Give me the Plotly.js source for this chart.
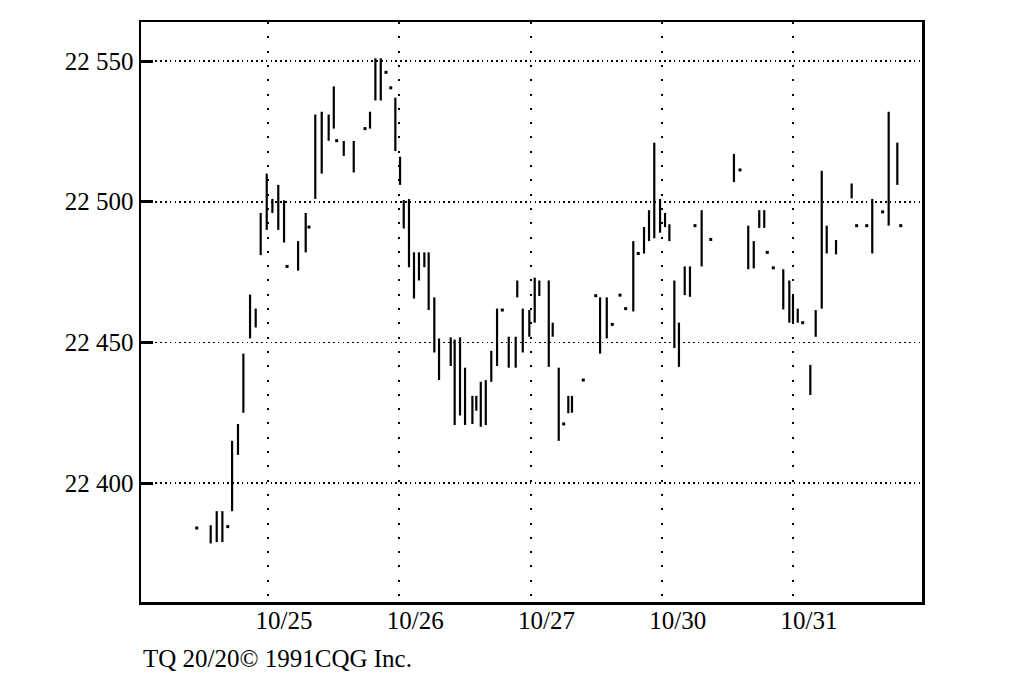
<!DOCTYPE html>
<html>
<head>
<meta charset="utf-8">
<script src="https://cdn.plot.ly/plotly-3.0.1.min.js"></script>
<style>html,body{margin:0;padding:0;background:#fff;}#chart{width:1024px;height:688px;}</style>
</head>
<body>
<div id="chart"></div>
<script>
// Bar positions in day units (1 = start of 10/25, 2 = 10/26, ...)
const barPos = [0.457,0.563,0.609,0.652,0.693,0.726,0.771,0.812,0.863,0.906,0.944,0.990,
  1.033,1.078,1.122,1.145,1.229,1.287,1.312,1.360,1.409,1.462,1.501,1.523,1.577,1.653,1.739,1.777,1.818,1.859,1.899,1.935,1.970,
  2.006,2.034,2.074,2.112,2.150,2.191,2.224,2.267,2.303,2.392,2.422,2.463,2.501,2.557,2.587,2.621,2.659,2.701,2.745,2.785,2.834,2.887,2.899,2.941,2.991,
  3.032,3.067,3.139,3.169,3.215,3.253,3.288,3.316,3.402,3.497,3.530,3.581,3.623,3.682,3.725,3.783,3.821,3.865,3.903,3.943,3.987,
  4.025,4.058,4.096,4.131,4.175,4.215,4.253,4.304,4.373,4.550,4.596,4.659,4.701,4.743,4.781,4.804,4.850,4.926,4.972,
  5.000,5.036,5.074,5.132,5.173,5.219,5.257,5.328,5.447,5.485,5.562,5.604,5.683,5.729,5.795,5.821];
const highs = [22384,22385,22390,22390,22384.5,22415,22421,22446,22467,22462,22496,22510,
  22501,22506,22500.5,22477,22486,22496,22491,22531,22532,22531,22541,22521.7,22521.6,22521.6,22526,22532,22551,22551,22546,22540.5,22537,
  22516,22500.6,22501,22482,22482,22482,22482,22466,22451.4,22451.8,22451,22451.8,22441,22431,22431,22436,22436.6,22447,22462,22461.5,22452,22452,22472,22462,22461.5,
  22473,22472,22472,22457,22441,22421,22431,22431,22436.6,22466.6,22466,22466,22456.4,22466.8,22462,22486,22481.6,22491,22497,22521,22501,
  22496,22492,22472,22457,22477,22477,22491.5,22497,22486.6,22517,22511.3,22491.5,22486,22497,22497,22482,22476.5,22476,22472,
  22466.5,22462,22457,22442,22461.5,22511,22491.5,22486.4,22506.5,22491.5,22491.5,22501,22496.4,22532,22521,22491.5];
const lows = [22384,22378.5,22379,22379,22384.5,22390,22410,22425,22451.4,22455.3,22481,22490,
  22496,22490,22485.5,22477,22475.5,22482,22491,22501,22510,22521.7,22526,22521.7,22516.3,22510.4,22526,22526,22536,22536,22546,22540.5,22518,
  22506,22490.5,22476.7,22465.6,22472,22476.7,22461.5,22446.4,22436.6,22441.6,22420.6,22424,22420.6,22421,22425.7,22420,22420.6,22436,22441.6,22461.5,22441,22441,22466,22446.4,22452,
  22457,22466.5,22441.3,22452,22415,22421,22424.8,22425,22436.6,22466.6,22446,22451.4,22456.4,22466.8,22462,22461,22481.6,22481.6,22486,22487,22489,
  22491,22486,22448,22441.3,22466.8,22466.2,22491.5,22477,22486.6,22507,22511.3,22476,22476.3,22490.7,22490.7,22482,22476.5,22461.7,22457,
  22456.8,22457,22457,22431.3,22452,22462,22481.6,22481.3,22501.2,22491.5,22491.5,22481.6,22496.4,22491.5,22506,22491.5];
const dayBounds = [1, 2, 3, 4, 5];
const dayLabels = ["10/25", "10/26", "10/27", "10/30", "10/31"];
const priceTicks = [22400, 22450, 22500, 22550];
const footer = "TQ 20/20© 1991CQG Inc.";

const lx = [], ly = [], dx = [], dy = [];
for (let i = 0; i < barPos.length; i++) {
  if (highs[i] === lows[i]) { dx.push(barPos[i]); dy.push(highs[i]); }
  else { lx.push(barPos[i], barPos[i], null); ly.push(lows[i], highs[i], null); }
}

const font = {family: "Liberation Serif, Times New Roman, serif", size: 25, color: "#000"};
const data = [
  {type: "scatter", mode: "lines", x: lx, y: ly, line: {color: "#000", width: 2.2}, hoverinfo: "skip", connectgaps: false},
  {type: "scatter", mode: "markers", x: dx, y: dy, marker: {symbol: "square", size: 3, color: "#000", line: {width: 0}}, hoverinfo: "skip"}
];
const layout = {
  width: 1024, height: 688,
  margin: {l: 141, r: 102, t: 22, b: 86},
  paper_bgcolor: "#fff", plot_bgcolor: "#fff",
  showlegend: false, hovermode: false,
  separators: ". ",
  font: font,
  xaxis: {
    range: [0.032, 5.983], tickmode: "array", tickvals: dayBounds, ticktext: dayLabels,
    ticks: "", ticklabelshift: 16, ticklabelstandoff: -6,
    showgrid: true, gridcolor: "#000", gridwidth: 2, griddash: "2px,12.3px",
    showline: true, mirror: true, linecolor: "#000", linewidth: 2.5, zeroline: false,
    tickfont: font
  },
  yaxis: {
    range: [22357.7, 22563.9], tickmode: "array", tickvals: priceTicks, tickformat: ",d",
    ticks: "inside", ticklen: 12, tickwidth: 3, tickcolor: "#000",
    showgrid: true, gridcolor: "#000", gridwidth: 1.6, griddash: "1.6px,3.2px",
    showline: true, mirror: true, linecolor: "#000", linewidth: 2.5, zeroline: false,
    tickfont: font
  },
  annotations: [{
    text: footer, xref: "paper", yref: "paper", x: 0, y: -0.097,
    xanchor: "left", yanchor: "middle", showarrow: false, font: font
  }]
};
Plotly.newPlot("chart", data, layout, {displayModeBar: false, staticPlot: true});
</script>
</body>
</html>
